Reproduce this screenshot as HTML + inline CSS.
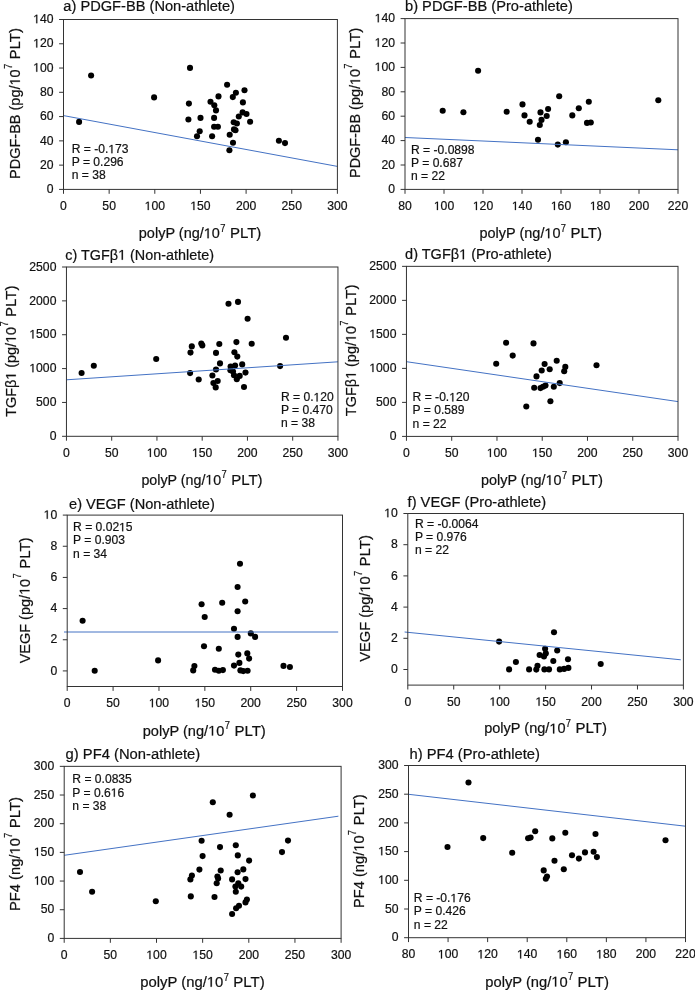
<!DOCTYPE html><html><head><meta charset="utf-8"><title>Scatter plots</title><style>html,body{margin:0;padding:0;background:#fff;overflow:hidden}svg{display:block;will-change:transform}text{fill:#111;stroke:#111;stroke-width:0.2px}</style></head><body>
<svg width="695" height="991" viewBox="0 0 695 991" font-family='"Liberation Sans", sans-serif'>
<rect width="695" height="991" fill="#fff"/>
<g><g fill="#000"><circle cx="91.1" cy="75.5" r="3.05"/><circle cx="154.1" cy="97.4" r="3.05"/><circle cx="79.1" cy="121.9" r="3.05"/><circle cx="190" cy="67.9" r="3.05"/><circle cx="188.9" cy="103.6" r="3.05"/><circle cx="227.1" cy="84.7" r="3.05"/><circle cx="244.5" cy="90.2" r="3.05"/><circle cx="235.9" cy="92.8" r="3.05"/><circle cx="232.8" cy="97.1" r="3.05"/><circle cx="218.5" cy="96.4" r="3.05"/><circle cx="210.5" cy="101.7" r="3.05"/><circle cx="242.9" cy="102.4" r="3.05"/><circle cx="214.3" cy="105.3" r="3.05"/><circle cx="216" cy="110.4" r="3.05"/><circle cx="242.6" cy="112.4" r="3.05"/><circle cx="246.5" cy="114" r="3.05"/><circle cx="238.8" cy="116.5" r="3.05"/><circle cx="188.4" cy="119.5" r="3.05"/><circle cx="200.5" cy="117.9" r="3.05"/><circle cx="214.1" cy="117.9" r="3.05"/><circle cx="250.1" cy="121.8" r="3.05"/><circle cx="233.7" cy="122.2" r="3.05"/><circle cx="236.9" cy="123.5" r="3.05"/><circle cx="214.1" cy="126.7" r="3.05"/><circle cx="217.9" cy="126.7" r="3.05"/><circle cx="234" cy="129.4" r="3.05"/><circle cx="235.5" cy="130.2" r="3.05"/><circle cx="199.7" cy="131.2" r="3.05"/><circle cx="197" cy="136.2" r="3.05"/><circle cx="212.1" cy="136.2" r="3.05"/><circle cx="229.7" cy="134.7" r="3.05"/><circle cx="233" cy="142.8" r="3.05"/><circle cx="229.4" cy="150.3" r="3.05"/><circle cx="278.9" cy="140.7" r="3.05"/><circle cx="285" cy="143.1" r="3.05"/></g><line x1="63.5" y1="115.6" x2="337.4" y2="166.4" stroke="#4472C4" stroke-width="1"/><rect x="63.5" y="19.5" width="273.9" height="169.9" fill="none" stroke="#333" stroke-width="1"/><path d="M63.5 189.4v4.4M109.15 189.4v4.4M154.8 189.4v4.4M200.45 189.4v4.4M246.1 189.4v4.4M291.75 189.4v4.4M337.4 189.4v4.4M63.5 189.4h-4.4M63.5 165.13h-4.4M63.5 140.86h-4.4M63.5 116.59h-4.4M63.5 92.31h-4.4M63.5 68.04h-4.4M63.5 43.77h-4.4M63.5 19.5h-4.4" stroke="#333" stroke-width="1" fill="none"/><g font-size="12.2"><text x="63.5" y="210.1" text-anchor="middle">0</text><text x="109.15" y="210.1" text-anchor="middle">50</text><text x="154.8" y="210.1" text-anchor="middle"> 00</text><text x="200.45" y="210.1" text-anchor="middle"> 50</text><text x="246.1" y="210.1" text-anchor="middle">200</text><text x="291.75" y="210.1" text-anchor="middle">250</text><text x="337.4" y="210.1" text-anchor="middle">300</text><text x="53.5" y="193.1" text-anchor="end">0</text><text x="53.5" y="168.83" text-anchor="end">20</text><text x="53.5" y="144.56" text-anchor="end">40</text><text x="53.5" y="120.29" text-anchor="end">60</text><text x="53.5" y="96.01" text-anchor="end">80</text><text x="53.5" y="71.74" text-anchor="end"> 00</text><text x="53.5" y="47.47" text-anchor="end"> 20</text><text x="53.5" y="23.2" text-anchor="end"> 40</text></g><text id="a_title" x="63.3" y="10.8" font-size="14.0" textLength="171.67" lengthAdjust="spacingAndGlyphs">a) PDGF-BB (Non-athlete)</text><g transform="translate(19.9 177.8) rotate(-90)"><text x="-1.16" y="0" font-size="14.1" textLength="109.60" lengthAdjust="spacingAndGlyphs">PDGF-BB (pg/ 0</text><text x="108.75" y="-8.1" font-size="10.4" textLength="5.23" lengthAdjust="spacingAndGlyphs">7</text><text x="118.4" y="0" font-size="14.1" textLength="31.43" lengthAdjust="spacingAndGlyphs">PLT)</text></g><text x="138.8" y="238.2" font-size="14.1" textLength="81.13" lengthAdjust="spacingAndGlyphs">polyP (ng/ 0</text><text x="220.25" y="231.9" font-size="10.4" textLength="5.23" lengthAdjust="spacingAndGlyphs">7</text><text x="229.9" y="238.2" font-size="14.1" textLength="31.43" lengthAdjust="spacingAndGlyphs">PLT)</text><g font-size="12.1"><text id="a_s0" x="71.7" y="153.2">R = -0. 73</text><text id="a_s1" x="71.7" y="166.25">P = 0.296</text><text id="a_s2" x="71.7" y="179.3">n = 38</text></g></g>
<g><g fill="#000"><circle cx="478.1" cy="70.7" r="3.05"/><circle cx="442.7" cy="110.8" r="3.05"/><circle cx="463.4" cy="112.2" r="3.05"/><circle cx="506.7" cy="111.8" r="3.05"/><circle cx="522.5" cy="104.4" r="3.05"/><circle cx="524.5" cy="115.4" r="3.05"/><circle cx="529.7" cy="121.7" r="3.05"/><circle cx="540.5" cy="112.4" r="3.05"/><circle cx="541.5" cy="119.9" r="3.05"/><circle cx="539.8" cy="125" r="3.05"/><circle cx="538" cy="139.8" r="3.05"/><circle cx="559.2" cy="96.3" r="3.05"/><circle cx="588.8" cy="101.7" r="3.05"/><circle cx="658.3" cy="100.3" r="3.05"/><circle cx="578.8" cy="108.2" r="3.05"/><circle cx="572.3" cy="115.4" r="3.05"/><circle cx="548.1" cy="109" r="3.05"/><circle cx="546.7" cy="116" r="3.05"/><circle cx="587" cy="122.9" r="3.05"/><circle cx="590.8" cy="122.5" r="3.05"/><circle cx="557.8" cy="144.6" r="3.05"/><circle cx="565.9" cy="142.2" r="3.05"/></g><line x1="405" y1="137.5" x2="678" y2="149.8" stroke="#4472C4" stroke-width="1"/><rect x="405" y="18.6" width="273" height="170.8" fill="none" stroke="#333" stroke-width="1"/><path d="M405 189.4v4.4M444 189.4v4.4M483 189.4v4.4M522 189.4v4.4M561 189.4v4.4M600 189.4v4.4M639 189.4v4.4M678 189.4v4.4M405 189.4h-4.4M405 165h-4.4M405 140.6h-4.4M405 116.2h-4.4M405 91.8h-4.4M405 67.4h-4.4M405 43h-4.4M405 18.6h-4.4" stroke="#333" stroke-width="1" fill="none"/><g font-size="12.2"><text x="405" y="210.1" text-anchor="middle">80</text><text x="444" y="210.1" text-anchor="middle"> 00</text><text x="483" y="210.1" text-anchor="middle"> 20</text><text x="522" y="210.1" text-anchor="middle"> 40</text><text x="561" y="210.1" text-anchor="middle"> 60</text><text x="600" y="210.1" text-anchor="middle"> 80</text><text x="639" y="210.1" text-anchor="middle">200</text><text x="678" y="210.1" text-anchor="middle">220</text><text x="395" y="193.1" text-anchor="end">0</text><text x="395" y="168.7" text-anchor="end">20</text><text x="395" y="144.3" text-anchor="end">40</text><text x="395" y="119.9" text-anchor="end">60</text><text x="395" y="95.5" text-anchor="end">80</text><text x="395" y="71.1" text-anchor="end"> 00</text><text x="395" y="46.7" text-anchor="end"> 20</text><text x="395" y="22.3" text-anchor="end"> 40</text></g><text id="b_title" x="405" y="10.9" font-size="14.0" textLength="167.77" lengthAdjust="spacingAndGlyphs">b) PDGF-BB (Pro-athlete)</text><g transform="translate(360.1 176.8) rotate(-90)"><text x="-1.15" y="0" font-size="14.1" textLength="108.89" lengthAdjust="spacingAndGlyphs">PDGF-BB (pg/ 0</text><text x="108.05" y="-8.1" font-size="10.4" textLength="5.23" lengthAdjust="spacingAndGlyphs">7</text><text x="117.7" y="0" font-size="14.1" textLength="31.43" lengthAdjust="spacingAndGlyphs">PLT)</text></g><text x="479.5" y="238.2" font-size="14.1" textLength="81.03" lengthAdjust="spacingAndGlyphs">polyP (ng/ 0</text><text x="560.85" y="231.9" font-size="10.4" textLength="5.23" lengthAdjust="spacingAndGlyphs">7</text><text x="570.5" y="238.2" font-size="14.1" textLength="31.43" lengthAdjust="spacingAndGlyphs">PLT)</text><g font-size="12.1"><text id="b_s0" x="411" y="154">R = -0.0898</text><text id="b_s1" x="411" y="166.9">P = 0.687</text><text id="b_s2" x="411" y="179.8">n = 22</text></g></g>
<g><g fill="#000"><circle cx="81.6" cy="373" r="3.05"/><circle cx="93.8" cy="365.8" r="3.05"/><circle cx="156.2" cy="359" r="3.05"/><circle cx="228.5" cy="303.7" r="3.05"/><circle cx="238" cy="301.9" r="3.05"/><circle cx="247.6" cy="318.8" r="3.05"/><circle cx="191.8" cy="346.4" r="3.05"/><circle cx="201.3" cy="343.5" r="3.05"/><circle cx="202.3" cy="345.4" r="3.05"/><circle cx="219.3" cy="344" r="3.05"/><circle cx="236.4" cy="342.1" r="3.05"/><circle cx="251.7" cy="343.7" r="3.05"/><circle cx="190.5" cy="352.6" r="3.05"/><circle cx="216" cy="352.9" r="3.05"/><circle cx="234.4" cy="352.2" r="3.05"/><circle cx="237.3" cy="356.6" r="3.05"/><circle cx="220" cy="363.4" r="3.05"/><circle cx="216" cy="369.5" r="3.05"/><circle cx="230.6" cy="366.6" r="3.05"/><circle cx="235.1" cy="365.6" r="3.05"/><circle cx="242.2" cy="364.4" r="3.05"/><circle cx="230.4" cy="370.2" r="3.05"/><circle cx="233" cy="371.6" r="3.05"/><circle cx="245.5" cy="372.6" r="3.05"/><circle cx="190.1" cy="373.1" r="3.05"/><circle cx="212.4" cy="375.5" r="3.05"/><circle cx="234" cy="375.2" r="3.05"/><circle cx="239.7" cy="375.9" r="3.05"/><circle cx="236.8" cy="379.2" r="3.05"/><circle cx="198.7" cy="379.5" r="3.05"/><circle cx="217.7" cy="381" r="3.05"/><circle cx="213.4" cy="383.1" r="3.05"/><circle cx="215.7" cy="387.4" r="3.05"/><circle cx="244" cy="387" r="3.05"/><circle cx="286" cy="337.8" r="3.05"/><circle cx="280.1" cy="366.1" r="3.05"/></g><line x1="66.45" y1="379.8" x2="337.95" y2="361.8" stroke="#4472C4" stroke-width="1"/><rect x="66.45" y="267" width="271.5" height="169.3" fill="none" stroke="#333" stroke-width="1"/><path d="M66.45 436.3v4.4M111.7 436.3v4.4M156.95 436.3v4.4M202.2 436.3v4.4M247.45 436.3v4.4M292.7 436.3v4.4M337.95 436.3v4.4M66.45 436.3h-4.4M66.45 402.44h-4.4M66.45 368.58h-4.4M66.45 334.72h-4.4M66.45 300.86h-4.4M66.45 267h-4.4" stroke="#333" stroke-width="1" fill="none"/><g font-size="12.2"><text x="66.45" y="457" text-anchor="middle">0</text><text x="111.7" y="457" text-anchor="middle">50</text><text x="156.95" y="457" text-anchor="middle"> 00</text><text x="202.2" y="457" text-anchor="middle"> 50</text><text x="247.45" y="457" text-anchor="middle">200</text><text x="292.7" y="457" text-anchor="middle">250</text><text x="337.95" y="457" text-anchor="middle">300</text><text x="56.45" y="440" text-anchor="end">0</text><text x="56.45" y="406.14" text-anchor="end">500</text><text x="56.45" y="372.28" text-anchor="end"> 000</text><text x="56.45" y="338.42" text-anchor="end"> 500</text><text x="56.45" y="304.56" text-anchor="end">2000</text><text x="56.45" y="270.7" text-anchor="end">2500</text></g><text id="c_title" x="65.3" y="259.7" font-size="14.0" textLength="148.68" lengthAdjust="spacingAndGlyphs">c) TGFβ  (Non-athlete)</text><g transform="translate(15.8 416.5) rotate(-90)"><text x="-0.38" y="0" font-size="14.1" textLength="90.01" lengthAdjust="spacingAndGlyphs">TGFβ  (pg/ 0</text><text x="89.95" y="-8.1" font-size="10.4" textLength="5.23" lengthAdjust="spacingAndGlyphs">7</text><text x="99.6" y="0" font-size="14.1" textLength="31.43" lengthAdjust="spacingAndGlyphs">PLT)</text></g><text x="141.41" y="484.6" font-size="14.1" textLength="79.81" lengthAdjust="spacingAndGlyphs">polyP (ng/ 0</text><text x="221.55" y="478.3" font-size="10.4" textLength="5.23" lengthAdjust="spacingAndGlyphs">7</text><text x="231.2" y="484.6" font-size="14.1" textLength="31.43" lengthAdjust="spacingAndGlyphs">PLT)</text><g font-size="12.1"><text id="c_s0" x="280.9" y="401.4">R = 0. 20</text><text id="c_s1" x="280.9" y="414.4">P = 0.470</text><text id="c_s2" x="280.9" y="427.4">n = 38</text></g></g>
<g><g fill="#000"><circle cx="506.1" cy="342.7" r="3.05"/><circle cx="533.5" cy="343.4" r="3.05"/><circle cx="512.7" cy="355.6" r="3.05"/><circle cx="496.2" cy="363.8" r="3.05"/><circle cx="556.7" cy="360.8" r="3.05"/><circle cx="544.6" cy="364" r="3.05"/><circle cx="549.7" cy="369.2" r="3.05"/><circle cx="541.7" cy="370.5" r="3.05"/><circle cx="565.3" cy="366.9" r="3.05"/><circle cx="564.2" cy="371.2" r="3.05"/><circle cx="536.5" cy="376.4" r="3.05"/><circle cx="559.7" cy="383.1" r="3.05"/><circle cx="534.2" cy="387.7" r="3.05"/><circle cx="540.5" cy="388.1" r="3.05"/><circle cx="543" cy="386.7" r="3.05"/><circle cx="545.5" cy="385.6" r="3.05"/><circle cx="553.8" cy="386.7" r="3.05"/><circle cx="550.4" cy="401.2" r="3.05"/><circle cx="526.3" cy="406.5" r="3.05"/><circle cx="596.5" cy="365.2" r="3.05"/></g><line x1="406.45" y1="361.7" x2="678" y2="401.6" stroke="#4472C4" stroke-width="1"/><rect x="406.45" y="266.35" width="271.55" height="170.05" fill="none" stroke="#333" stroke-width="1"/><path d="M406.45 436.4v4.4M451.71 436.4v4.4M496.97 436.4v4.4M542.23 436.4v4.4M587.48 436.4v4.4M632.74 436.4v4.4M678 436.4v4.4M406.45 436.4h-4.4M406.45 402.39h-4.4M406.45 368.38h-4.4M406.45 334.37h-4.4M406.45 300.36h-4.4M406.45 266.35h-4.4" stroke="#333" stroke-width="1" fill="none"/><g font-size="12.2"><text x="406.45" y="457.1" text-anchor="middle">0</text><text x="451.71" y="457.1" text-anchor="middle">50</text><text x="496.97" y="457.1" text-anchor="middle"> 00</text><text x="542.23" y="457.1" text-anchor="middle"> 50</text><text x="587.48" y="457.1" text-anchor="middle">200</text><text x="632.74" y="457.1" text-anchor="middle">250</text><text x="678" y="457.1" text-anchor="middle">300</text><text x="396.45" y="440.1" text-anchor="end">0</text><text x="396.45" y="406.09" text-anchor="end">500</text><text x="396.45" y="372.08" text-anchor="end"> 000</text><text x="396.45" y="338.07" text-anchor="end"> 500</text><text x="396.45" y="304.06" text-anchor="end">2000</text><text x="396.45" y="270.05" text-anchor="end">2500</text></g><text id="d_title" x="405.1" y="259.2" font-size="14.0" textLength="146.68" lengthAdjust="spacingAndGlyphs">d) TGFβ  (Pro-athlete)</text><g transform="translate(355.8 415.8) rotate(-90)"><text x="-0.38" y="0" font-size="14.1" textLength="90.21" lengthAdjust="spacingAndGlyphs">TGFβ  (pg/ 0</text><text x="90.15" y="-8.1" font-size="10.4" textLength="5.23" lengthAdjust="spacingAndGlyphs">7</text><text x="99.8" y="0" font-size="14.1" textLength="31.43" lengthAdjust="spacingAndGlyphs">PLT)</text></g><text x="481.01" y="484.9" font-size="14.1" textLength="80.62" lengthAdjust="spacingAndGlyphs">polyP (ng/ 0</text><text x="561.95" y="478.6" font-size="10.4" textLength="5.23" lengthAdjust="spacingAndGlyphs">7</text><text x="571.6" y="484.9" font-size="14.1" textLength="31.43" lengthAdjust="spacingAndGlyphs">PLT)</text><g font-size="12.1"><text id="d_s0" x="412.6" y="401.4">R = -0. 20</text><text id="d_s1" x="412.6" y="414.45">P = 0.589</text><text id="d_s2" x="412.6" y="427.5">n = 22</text></g></g>
<g><g fill="#000"><circle cx="82.6" cy="620.7" r="3.05"/><circle cx="94.7" cy="670.8" r="3.05"/><circle cx="158.1" cy="660.4" r="3.05"/><circle cx="240" cy="563.7" r="3.05"/><circle cx="237.6" cy="587" r="3.05"/><circle cx="201.6" cy="604.2" r="3.05"/><circle cx="222.2" cy="602.8" r="3.05"/><circle cx="245.2" cy="601.5" r="3.05"/><circle cx="237.6" cy="611.2" r="3.05"/><circle cx="204.7" cy="617" r="3.05"/><circle cx="234" cy="628.7" r="3.05"/><circle cx="237.6" cy="636.9" r="3.05"/><circle cx="250.8" cy="633.4" r="3.05"/><circle cx="255.1" cy="636.9" r="3.05"/><circle cx="204" cy="646.2" r="3.05"/><circle cx="218.8" cy="648.8" r="3.05"/><circle cx="238.3" cy="654.6" r="3.05"/><circle cx="247.3" cy="653.4" r="3.05"/><circle cx="249.1" cy="658.6" r="3.05"/><circle cx="194.4" cy="666.1" r="3.05"/><circle cx="193.2" cy="670.4" r="3.05"/><circle cx="215" cy="669.7" r="3.05"/><circle cx="218.8" cy="670.8" r="3.05"/><circle cx="222.9" cy="670.1" r="3.05"/><circle cx="234" cy="665.6" r="3.05"/><circle cx="239.4" cy="662.9" r="3.05"/><circle cx="240.4" cy="670.4" r="3.05"/><circle cx="243.3" cy="671.1" r="3.05"/><circle cx="247.6" cy="670.8" r="3.05"/><circle cx="283.5" cy="665.9" r="3.05"/><circle cx="289.9" cy="667" r="3.05"/></g><line x1="64" y1="632" x2="338.2" y2="632" stroke="#4472C4" stroke-width="1"/><rect x="67.2" y="515.1" width="275.3" height="171.4" fill="none" stroke="#333" stroke-width="1"/><path d="M67.2 686.5v4.4M113.08 686.5v4.4M158.97 686.5v4.4M204.85 686.5v4.4M250.73 686.5v4.4M296.62 686.5v4.4M342.5 686.5v4.4M67.2 670.92h-4.4M67.2 639.75h-4.4M67.2 608.59h-4.4M67.2 577.43h-4.4M67.2 546.26h-4.4M67.2 515.1h-4.4" stroke="#333" stroke-width="1" fill="none"/><g font-size="12.2"><text x="67.2" y="707.2" text-anchor="middle">0</text><text x="113.08" y="707.2" text-anchor="middle">50</text><text x="158.97" y="707.2" text-anchor="middle"> 00</text><text x="204.85" y="707.2" text-anchor="middle"> 50</text><text x="250.73" y="707.2" text-anchor="middle">200</text><text x="296.62" y="707.2" text-anchor="middle">250</text><text x="342.5" y="707.2" text-anchor="middle">300</text><text x="57.2" y="674.62" text-anchor="end">0</text><text x="57.2" y="643.45" text-anchor="end">2</text><text x="57.2" y="612.29" text-anchor="end">4</text><text x="57.2" y="581.13" text-anchor="end">6</text><text x="57.2" y="549.96" text-anchor="end">8</text><text x="57.2" y="518.8" text-anchor="end"> 0</text></g><text id="e_title" x="69.1" y="508.6" font-size="14.0" textLength="145.75" lengthAdjust="spacingAndGlyphs">e) VEGF (Non-athlete)</text><g transform="translate(29.5 663.2) rotate(-90)"><text x="-0.13" y="0" font-size="14.1" textLength="84.51" lengthAdjust="spacingAndGlyphs">VEGF (pg/ 0</text><text x="84.7" y="-8.1" font-size="10.4" textLength="5.23" lengthAdjust="spacingAndGlyphs">7</text><text x="94.35" y="0" font-size="14.1" textLength="31.43" lengthAdjust="spacingAndGlyphs">PLT)</text></g><text x="142.69" y="735.6" font-size="14.1" textLength="81.74" lengthAdjust="spacingAndGlyphs">polyP (ng/ 0</text><text x="224.75" y="729.3" font-size="10.4" textLength="5.23" lengthAdjust="spacingAndGlyphs">7</text><text x="234.4" y="735.6" font-size="14.1" textLength="31.43" lengthAdjust="spacingAndGlyphs">PLT)</text><g font-size="12.1"><text id="e_s0" x="73.05" y="531.3">R = 0.02 5</text><text id="e_s1" x="73.05" y="544.45">P = 0.903</text><text id="e_s2" x="73.05" y="557.6">n = 34</text></g></g>
<g><g fill="#000"><circle cx="554" cy="632.2" r="3.05"/><circle cx="499.1" cy="641.6" r="3.05"/><circle cx="545.1" cy="648.8" r="3.05"/><circle cx="557.2" cy="650.5" r="3.05"/><circle cx="545.8" cy="653.4" r="3.05"/><circle cx="539.6" cy="655" r="3.05"/><circle cx="544" cy="656.4" r="3.05"/><circle cx="515.9" cy="662" r="3.05"/><circle cx="553.3" cy="661" r="3.05"/><circle cx="568" cy="659.3" r="3.05"/><circle cx="509.1" cy="669.4" r="3.05"/><circle cx="529.1" cy="669.4" r="3.05"/><circle cx="537.5" cy="665.8" r="3.05"/><circle cx="536.3" cy="669.6" r="3.05"/><circle cx="544.4" cy="669.4" r="3.05"/><circle cx="549" cy="669.4" r="3.05"/><circle cx="559.8" cy="669.4" r="3.05"/><circle cx="564.1" cy="668.9" r="3.05"/><circle cx="568.4" cy="667.9" r="3.05"/><circle cx="600.7" cy="664" r="3.05"/></g><line x1="404.6" y1="632" x2="680.8" y2="659.8" stroke="#4472C4" stroke-width="1"/><rect x="407.8" y="513.5" width="275.6" height="171.6" fill="none" stroke="#333" stroke-width="1"/><path d="M407.8 685.1v4.4M453.73 685.1v4.4M499.67 685.1v4.4M545.6 685.1v4.4M591.53 685.1v4.4M637.47 685.1v4.4M683.4 685.1v4.4M407.8 669.5h-4.4M407.8 638.3h-4.4M407.8 607.1h-4.4M407.8 575.9h-4.4M407.8 544.7h-4.4M407.8 513.5h-4.4" stroke="#333" stroke-width="1" fill="none"/><g font-size="12.2"><text x="407.8" y="705.8" text-anchor="middle">0</text><text x="453.73" y="705.8" text-anchor="middle">50</text><text x="499.67" y="705.8" text-anchor="middle"> 00</text><text x="545.6" y="705.8" text-anchor="middle"> 50</text><text x="591.53" y="705.8" text-anchor="middle">200</text><text x="637.47" y="705.8" text-anchor="middle">250</text><text x="683.4" y="705.8" text-anchor="middle">300</text><text x="397.8" y="673.2" text-anchor="end">0</text><text x="397.8" y="642" text-anchor="end">2</text><text x="397.8" y="610.8" text-anchor="end">4</text><text x="397.8" y="579.6" text-anchor="end">6</text><text x="397.8" y="548.4" text-anchor="end">8</text><text x="397.8" y="517.2" text-anchor="end"> 0</text></g><text id="f_title" x="407.6" y="506.5" font-size="14.0" textLength="138.53" lengthAdjust="spacingAndGlyphs">f) VEGF (Pro-athlete)</text><g transform="translate(370 661.65) rotate(-90)"><text x="-0.13" y="0" font-size="14.1" textLength="85.42" lengthAdjust="spacingAndGlyphs">VEGF (pg/ 0</text><text x="85.6" y="-8.1" font-size="10.4" textLength="5.23" lengthAdjust="spacingAndGlyphs">7</text><text x="95.25" y="0" font-size="14.1" textLength="31.43" lengthAdjust="spacingAndGlyphs">PLT)</text></g><text x="484.2" y="733.4" font-size="14.1" textLength="81.33" lengthAdjust="spacingAndGlyphs">polyP (ng/ 0</text><text x="565.85" y="727.1" font-size="10.4" textLength="5.23" lengthAdjust="spacingAndGlyphs">7</text><text x="575.5" y="733.4" font-size="14.1" textLength="31.43" lengthAdjust="spacingAndGlyphs">PLT)</text><g font-size="12.1"><text id="f_s0" x="414.9" y="528.1">R = -0.0064</text><text id="f_s1" x="414.9" y="541.2">P = 0.976</text><text id="f_s2" x="414.9" y="554.3">n = 22</text></g></g>
<g><g fill="#000"><circle cx="80" cy="872" r="3.05"/><circle cx="92.1" cy="891.8" r="3.05"/><circle cx="155.8" cy="901.3" r="3.05"/><circle cx="212.8" cy="802.2" r="3.05"/><circle cx="229.6" cy="814.7" r="3.05"/><circle cx="252.9" cy="795.5" r="3.05"/><circle cx="201.6" cy="840.7" r="3.05"/><circle cx="220" cy="847.1" r="3.05"/><circle cx="235.8" cy="845.3" r="3.05"/><circle cx="202.6" cy="856.1" r="3.05"/><circle cx="237.8" cy="855.4" r="3.05"/><circle cx="249.1" cy="860.6" r="3.05"/><circle cx="199.4" cy="869.6" r="3.05"/><circle cx="220.7" cy="870.5" r="3.05"/><circle cx="243.3" cy="869.4" r="3.05"/><circle cx="237.6" cy="872.2" r="3.05"/><circle cx="191.9" cy="875.5" r="3.05"/><circle cx="190.4" cy="879.4" r="3.05"/><circle cx="217.4" cy="876.5" r="3.05"/><circle cx="216.7" cy="883.3" r="3.05"/><circle cx="232.1" cy="879.4" r="3.05"/><circle cx="245.5" cy="879.1" r="3.05"/><circle cx="238.3" cy="883.3" r="3.05"/><circle cx="235.4" cy="886.6" r="3.05"/><circle cx="241.2" cy="886.6" r="3.05"/><circle cx="235.8" cy="891.7" r="3.05"/><circle cx="190.8" cy="896.4" r="3.05"/><circle cx="214.5" cy="897" r="3.05"/><circle cx="246.9" cy="899.6" r="3.05"/><circle cx="245.5" cy="902.4" r="3.05"/><circle cx="239" cy="905.8" r="3.05"/><circle cx="236.1" cy="908.2" r="3.05"/><circle cx="232.1" cy="914" r="3.05"/><circle cx="288" cy="840.6" r="3.05"/><circle cx="282" cy="852.1" r="3.05"/><circle cx="218.1" cy="878.5" r="3.05"/></g><line x1="64.2" y1="855.3" x2="338.4" y2="816.2" stroke="#4472C4" stroke-width="1"/><rect x="64.2" y="766.35" width="276.9" height="172.05" fill="none" stroke="#333" stroke-width="1"/><path d="M64.2 938.4v4.4M110.35 938.4v4.4M156.5 938.4v4.4M202.65 938.4v4.4M248.8 938.4v4.4M294.95 938.4v4.4M341.1 938.4v4.4M64.2 938.4h-4.4M64.2 909.73h-4.4M64.2 881.05h-4.4M64.2 852.38h-4.4M64.2 823.7h-4.4M64.2 795.02h-4.4M64.2 766.35h-4.4" stroke="#333" stroke-width="1" fill="none"/><g font-size="12.2"><text x="64.2" y="959.1" text-anchor="middle">0</text><text x="110.35" y="959.1" text-anchor="middle">50</text><text x="156.5" y="959.1" text-anchor="middle"> 00</text><text x="202.65" y="959.1" text-anchor="middle"> 50</text><text x="248.8" y="959.1" text-anchor="middle">200</text><text x="294.95" y="959.1" text-anchor="middle">250</text><text x="341.1" y="959.1" text-anchor="middle">300</text><text x="54.2" y="942.1" text-anchor="end">0</text><text x="54.2" y="913.43" text-anchor="end">50</text><text x="54.2" y="884.75" text-anchor="end"> 00</text><text x="54.2" y="856.08" text-anchor="end"> 50</text><text x="54.2" y="827.4" text-anchor="end">200</text><text x="54.2" y="798.73" text-anchor="end">250</text><text x="54.2" y="770.05" text-anchor="end">300</text></g><text id="g_title" x="65.6" y="758.8" font-size="14.0" textLength="134.60" lengthAdjust="spacingAndGlyphs">g) PF4 (Non-athlete)</text><g transform="translate(19.8 909.9) rotate(-90)"><text x="-1.18" y="0" font-size="14.1" textLength="72.91" lengthAdjust="spacingAndGlyphs">PF4 (ng/ 0</text><text x="71.95" y="-8.1" font-size="10.4" textLength="5.23" lengthAdjust="spacingAndGlyphs">7</text><text x="81.6" y="0" font-size="14.1" textLength="31.43" lengthAdjust="spacingAndGlyphs">PLT)</text></g><text x="140.28" y="986.8" font-size="14.1" textLength="83.06" lengthAdjust="spacingAndGlyphs">polyP (ng/ 0</text><text x="223.65" y="980.5" font-size="10.4" textLength="5.23" lengthAdjust="spacingAndGlyphs">7</text><text x="233.3" y="986.8" font-size="14.1" textLength="31.43" lengthAdjust="spacingAndGlyphs">PLT)</text><g font-size="12.1"><text id="g_s0" x="72.3" y="783.3">R = 0.0835</text><text id="g_s1" x="72.3" y="796.7">P = 0.6 6</text><text id="g_s2" x="72.3" y="810.1">n = 38</text></g></g>
<g><g fill="#000"><circle cx="468.5" cy="782.5" r="3.05"/><circle cx="447.5" cy="847" r="3.05"/><circle cx="483.2" cy="838.1" r="3.05"/><circle cx="512.2" cy="852.7" r="3.05"/><circle cx="528.1" cy="838.3" r="3.05"/><circle cx="530.6" cy="837.6" r="3.05"/><circle cx="535.2" cy="831.3" r="3.05"/><circle cx="552.3" cy="838.4" r="3.05"/><circle cx="565.3" cy="832.7" r="3.05"/><circle cx="595.5" cy="834" r="3.05"/><circle cx="572" cy="855.3" r="3.05"/><circle cx="578.9" cy="858.6" r="3.05"/><circle cx="585" cy="852.4" r="3.05"/><circle cx="593.6" cy="851.7" r="3.05"/><circle cx="596.9" cy="857.1" r="3.05"/><circle cx="554.5" cy="860.7" r="3.05"/><circle cx="563.8" cy="869.2" r="3.05"/><circle cx="543.7" cy="870.4" r="3.05"/><circle cx="547" cy="876.5" r="3.05"/><circle cx="545.8" cy="878.7" r="3.05"/><circle cx="665.5" cy="840.3" r="3.05"/></g><line x1="408.5" y1="794.3" x2="685.4" y2="826.2" stroke="#4472C4" stroke-width="1"/><rect x="408.5" y="765.5" width="277" height="172.2" fill="none" stroke="#333" stroke-width="1"/><path d="M408.5 937.7v4.4M448.07 937.7v4.4M487.64 937.7v4.4M527.21 937.7v4.4M566.79 937.7v4.4M606.36 937.7v4.4M645.93 937.7v4.4M685.5 937.7v4.4M408.5 937.7h-4.4M408.5 909h-4.4M408.5 880.3h-4.4M408.5 851.6h-4.4M408.5 822.9h-4.4M408.5 794.2h-4.4M408.5 765.5h-4.4" stroke="#333" stroke-width="1" fill="none"/><g font-size="12.2"><text x="408.5" y="958.4" text-anchor="middle">80</text><text x="448.07" y="958.4" text-anchor="middle"> 00</text><text x="487.64" y="958.4" text-anchor="middle"> 20</text><text x="527.21" y="958.4" text-anchor="middle"> 40</text><text x="566.79" y="958.4" text-anchor="middle"> 60</text><text x="606.36" y="958.4" text-anchor="middle"> 80</text><text x="645.93" y="958.4" text-anchor="middle">200</text><text x="685.5" y="958.4" text-anchor="middle">220</text><text x="398.5" y="941.4" text-anchor="end">0</text><text x="398.5" y="912.7" text-anchor="end">50</text><text x="398.5" y="884" text-anchor="end"> 00</text><text x="398.5" y="855.3" text-anchor="end"> 50</text><text x="398.5" y="826.6" text-anchor="end">200</text><text x="398.5" y="797.9" text-anchor="end">250</text><text x="398.5" y="769.2" text-anchor="end">300</text></g><text id="h_title" x="409.45" y="759.2" font-size="14.0" textLength="130.47" lengthAdjust="spacingAndGlyphs">h) PF4 (Pro-athlete)</text><g transform="translate(363.9 906.8) rotate(-90)"><text x="-1.17" y="0" font-size="14.1" textLength="72.50" lengthAdjust="spacingAndGlyphs">PF4 (ng/ 0</text><text x="71.55" y="-8.1" font-size="10.4" textLength="5.23" lengthAdjust="spacingAndGlyphs">7</text><text x="81.2" y="0" font-size="14.1" textLength="31.43" lengthAdjust="spacingAndGlyphs">PLT)</text></g><text x="485.29" y="986.5" font-size="14.1" textLength="82.35" lengthAdjust="spacingAndGlyphs">polyP (ng/ 0</text><text x="567.95" y="980.2" font-size="10.4" textLength="5.23" lengthAdjust="spacingAndGlyphs">7</text><text x="577.6" y="986.5" font-size="14.1" textLength="31.43" lengthAdjust="spacingAndGlyphs">PLT)</text><g font-size="12.1"><text id="h_s0" x="413.8" y="902.2">R = -0. 76</text><text id="h_s1" x="413.8" y="915.35">P = 0.426</text><text id="h_s2" x="413.8" y="928.5">n = 22</text></g></g>
<g fill="#111" stroke="#111" stroke-width="0.2" vector-effect="non-scaling-stroke"><path vector-effect="non-scaling-stroke" transform="matrix(1 0 0 1 0 0) translate(144.628 210.100) scale(0.005954 -0.005957)" d="M515 0V1237L197 1010V1180L530 1409H696V0Z"/><path vector-effect="non-scaling-stroke" transform="matrix(1 0 0 1 0 0) translate(190.278 210.100) scale(0.005954 -0.005957)" d="M515 0V1237L197 1010V1180L530 1409H696V0Z"/><path vector-effect="non-scaling-stroke" transform="matrix(1 0 0 1 0 0) translate(33.156 71.740) scale(0.005954 -0.005957)" d="M515 0V1237L197 1010V1180L530 1409H696V0Z"/><path vector-effect="non-scaling-stroke" transform="matrix(1 0 0 1 0 0) translate(33.156 47.470) scale(0.005954 -0.005957)" d="M515 0V1237L197 1010V1180L530 1409H696V0Z"/><path vector-effect="non-scaling-stroke" transform="matrix(1 0 0 1 0 0) translate(33.156 23.200) scale(0.005954 -0.005957)" d="M515 0V1237L197 1010V1180L530 1409H696V0Z"/><path vector-effect="non-scaling-stroke" transform="matrix(0 -1 1 0 19.9 177.8) translate(92.301 0.000) scale(0.007085 -0.006885)" d="M515 0V1237L197 1010V1180L530 1409H696V0Z"/><path vector-effect="non-scaling-stroke" transform="matrix(1 0 0 1 0 0) translate(203.781 238.200) scale(0.007096 -0.006885)" d="M515 0V1237L197 1010V1180L530 1409H696V0Z"/><path vector-effect="non-scaling-stroke" transform="matrix(1 0 0 1 0 0) translate(108.325 153.200) scale(0.005913 -0.005908)" d="M515 0V1237L197 1010V1180L530 1409H696V0Z"/><path vector-effect="non-scaling-stroke" transform="matrix(1 0 0 1 0 0) translate(433.828 210.100) scale(0.005954 -0.005957)" d="M515 0V1237L197 1010V1180L530 1409H696V0Z"/><path vector-effect="non-scaling-stroke" transform="matrix(1 0 0 1 0 0) translate(472.828 210.100) scale(0.005954 -0.005957)" d="M515 0V1237L197 1010V1180L530 1409H696V0Z"/><path vector-effect="non-scaling-stroke" transform="matrix(1 0 0 1 0 0) translate(511.828 210.100) scale(0.005954 -0.005957)" d="M515 0V1237L197 1010V1180L530 1409H696V0Z"/><path vector-effect="non-scaling-stroke" transform="matrix(1 0 0 1 0 0) translate(550.828 210.100) scale(0.005954 -0.005957)" d="M515 0V1237L197 1010V1180L530 1409H696V0Z"/><path vector-effect="non-scaling-stroke" transform="matrix(1 0 0 1 0 0) translate(589.828 210.100) scale(0.005954 -0.005957)" d="M515 0V1237L197 1010V1180L530 1409H696V0Z"/><path vector-effect="non-scaling-stroke" transform="matrix(1 0 0 1 0 0) translate(374.656 71.100) scale(0.005954 -0.005957)" d="M515 0V1237L197 1010V1180L530 1409H696V0Z"/><path vector-effect="non-scaling-stroke" transform="matrix(1 0 0 1 0 0) translate(374.656 46.700) scale(0.005954 -0.005957)" d="M515 0V1237L197 1010V1180L530 1409H696V0Z"/><path vector-effect="non-scaling-stroke" transform="matrix(1 0 0 1 0 0) translate(374.656 22.300) scale(0.005954 -0.005957)" d="M515 0V1237L197 1010V1180L530 1409H696V0Z"/><path vector-effect="non-scaling-stroke" transform="matrix(0 -1 1 0 360.10001 176.8) translate(91.705 0.000) scale(0.007039 -0.006885)" d="M515 0V1237L197 1010V1180L530 1409H696V0Z"/><path vector-effect="non-scaling-stroke" transform="matrix(1 0 0 1 0 0) translate(544.401 238.200) scale(0.007087 -0.006885)" d="M515 0V1237L197 1010V1180L530 1409H696V0Z"/><path vector-effect="non-scaling-stroke" transform="matrix(1 0 0 1 0 0) translate(146.778 457.000) scale(0.005954 -0.005957)" d="M515 0V1237L197 1010V1180L530 1409H696V0Z"/><path vector-effect="non-scaling-stroke" transform="matrix(1 0 0 1 0 0) translate(192.028 457.000) scale(0.005954 -0.005957)" d="M515 0V1237L197 1010V1180L530 1409H696V0Z"/><path vector-effect="non-scaling-stroke" transform="matrix(1 0 0 1 0 0) translate(29.325 372.280) scale(0.005954 -0.005957)" d="M515 0V1237L197 1010V1180L530 1409H696V0Z"/><path vector-effect="non-scaling-stroke" transform="matrix(1 0 0 1 0 0) translate(29.325 338.420) scale(0.005954 -0.005957)" d="M515 0V1237L197 1010V1180L530 1409H696V0Z"/><path vector-effect="non-scaling-stroke" transform="matrix(1 0 0 1 0 0) translate(118.043 259.700) scale(0.007032 -0.006836)" d="M515 0V1237L197 1010V1180L530 1409H696V0Z"/><path vector-effect="non-scaling-stroke" transform="matrix(0 -1 1 0 15.8 416.5) translate(36.723 0.000) scale(0.007057 -0.006885)" d="M515 0V1237L197 1010V1180L530 1409H696V0Z"/><path vector-effect="non-scaling-stroke" transform="matrix(0 -1 1 0 15.8 416.5) translate(73.571 0.000) scale(0.007057 -0.006885)" d="M515 0V1237L197 1010V1180L530 1409H696V0Z"/><path vector-effect="non-scaling-stroke" transform="matrix(1 0 0 1 0 0) translate(205.334 484.600) scale(0.006981 -0.006885)" d="M515 0V1237L197 1010V1180L530 1409H696V0Z"/><path vector-effect="non-scaling-stroke" transform="matrix(1 0 0 1 0 0) translate(313.494 401.400) scale(0.005926 -0.005908)" d="M515 0V1237L197 1010V1180L530 1409H696V0Z"/><path vector-effect="non-scaling-stroke" transform="matrix(1 0 0 1 0 0) translate(486.798 457.100) scale(0.005954 -0.005957)" d="M515 0V1237L197 1010V1180L530 1409H696V0Z"/><path vector-effect="non-scaling-stroke" transform="matrix(1 0 0 1 0 0) translate(532.058 457.100) scale(0.005954 -0.005957)" d="M515 0V1237L197 1010V1180L530 1409H696V0Z"/><path vector-effect="non-scaling-stroke" transform="matrix(1 0 0 1 0 0) translate(369.325 372.080) scale(0.005954 -0.005957)" d="M515 0V1237L197 1010V1180L530 1409H696V0Z"/><path vector-effect="non-scaling-stroke" transform="matrix(1 0 0 1 0 0) translate(369.325 338.070) scale(0.005954 -0.005957)" d="M515 0V1237L197 1010V1180L530 1409H696V0Z"/><path vector-effect="non-scaling-stroke" transform="matrix(1 0 0 1 0 0) translate(459.085 259.200) scale(0.007090 -0.006836)" d="M515 0V1237L197 1010V1180L530 1409H696V0Z"/><path vector-effect="non-scaling-stroke" transform="matrix(0 -1 1 0 355.79999 415.79999) translate(36.806 0.000) scale(0.007072 -0.006885)" d="M515 0V1237L197 1010V1180L530 1409H696V0Z"/><path vector-effect="non-scaling-stroke" transform="matrix(0 -1 1 0 355.79999 415.79999) translate(73.735 0.000) scale(0.007072 -0.006885)" d="M515 0V1237L197 1010V1180L530 1409H696V0Z"/><path vector-effect="non-scaling-stroke" transform="matrix(1 0 0 1 0 0) translate(545.583 484.900) scale(0.007052 -0.006885)" d="M515 0V1237L197 1010V1180L530 1409H696V0Z"/><path vector-effect="non-scaling-stroke" transform="matrix(1 0 0 1 0 0) translate(449.225 401.400) scale(0.005913 -0.005908)" d="M515 0V1237L197 1010V1180L530 1409H696V0Z"/><path vector-effect="non-scaling-stroke" transform="matrix(1 0 0 1 0 0) translate(148.798 707.200) scale(0.005954 -0.005957)" d="M515 0V1237L197 1010V1180L530 1409H696V0Z"/><path vector-effect="non-scaling-stroke" transform="matrix(1 0 0 1 0 0) translate(194.678 707.200) scale(0.005954 -0.005957)" d="M515 0V1237L197 1010V1180L530 1409H696V0Z"/><path vector-effect="non-scaling-stroke" transform="matrix(1 0 0 1 0 0) translate(43.638 518.800) scale(0.005954 -0.005957)" d="M515 0V1237L197 1010V1180L530 1409H696V0Z"/><path vector-effect="non-scaling-stroke" transform="matrix(0 -1 1 0 29.5 663.20001) translate(68.248 0.000) scale(0.007088 -0.006885)" d="M515 0V1237L197 1010V1180L530 1409H696V0Z"/><path vector-effect="non-scaling-stroke" transform="matrix(1 0 0 1 0 0) translate(208.160 735.600) scale(0.007149 -0.006885)" d="M515 0V1237L197 1010V1180L530 1409H696V0Z"/><path vector-effect="non-scaling-stroke" transform="matrix(1 0 0 1 0 0) translate(119.097 531.300) scale(0.005913 -0.005908)" d="M515 0V1237L197 1010V1180L530 1409H696V0Z"/><path vector-effect="non-scaling-stroke" transform="matrix(1 0 0 1 0 0) translate(489.498 705.800) scale(0.005954 -0.005957)" d="M515 0V1237L197 1010V1180L530 1409H696V0Z"/><path vector-effect="non-scaling-stroke" transform="matrix(1 0 0 1 0 0) translate(535.428 705.800) scale(0.005954 -0.005957)" d="M515 0V1237L197 1010V1180L530 1409H696V0Z"/><path vector-effect="non-scaling-stroke" transform="matrix(1 0 0 1 0 0) translate(384.237 517.200) scale(0.005954 -0.005957)" d="M515 0V1237L197 1010V1180L530 1409H696V0Z"/><path vector-effect="non-scaling-stroke" transform="matrix(0 -1 1 0 370 661.65002) translate(68.985 0.000) scale(0.007165 -0.006885)" d="M515 0V1237L197 1010V1180L530 1409H696V0Z"/><path vector-effect="non-scaling-stroke" transform="matrix(1 0 0 1 0 0) translate(549.341 733.400) scale(0.007114 -0.006885)" d="M515 0V1237L197 1010V1180L530 1409H696V0Z"/><path vector-effect="non-scaling-stroke" transform="matrix(1 0 0 1 0 0) translate(146.328 959.100) scale(0.005954 -0.005957)" d="M515 0V1237L197 1010V1180L530 1409H696V0Z"/><path vector-effect="non-scaling-stroke" transform="matrix(1 0 0 1 0 0) translate(192.478 959.100) scale(0.005954 -0.005957)" d="M515 0V1237L197 1010V1180L530 1409H696V0Z"/><path vector-effect="non-scaling-stroke" transform="matrix(1 0 0 1 0 0) translate(33.856 884.750) scale(0.005954 -0.005957)" d="M515 0V1237L197 1010V1180L530 1409H696V0Z"/><path vector-effect="non-scaling-stroke" transform="matrix(1 0 0 1 0 0) translate(33.856 856.080) scale(0.005954 -0.005957)" d="M515 0V1237L197 1010V1180L530 1409H696V0Z"/><path vector-effect="non-scaling-stroke" transform="matrix(0 -1 1 0 19.8 909.90002) translate(55.328 0.000) scale(0.007200 -0.006885)" d="M515 0V1237L197 1010V1180L530 1409H696V0Z"/><path vector-effect="non-scaling-stroke" transform="matrix(1 0 0 1 0 0) translate(206.807 986.800) scale(0.007265 -0.006885)" d="M515 0V1237L197 1010V1180L530 1409H696V0Z"/><path vector-effect="non-scaling-stroke" transform="matrix(1 0 0 1 0 0) translate(110.738 796.700) scale(0.005913 -0.005908)" d="M515 0V1237L197 1010V1180L530 1409H696V0Z"/><path vector-effect="non-scaling-stroke" transform="matrix(1 0 0 1 0 0) translate(437.898 958.400) scale(0.005954 -0.005957)" d="M515 0V1237L197 1010V1180L530 1409H696V0Z"/><path vector-effect="non-scaling-stroke" transform="matrix(1 0 0 1 0 0) translate(477.468 958.400) scale(0.005954 -0.005957)" d="M515 0V1237L197 1010V1180L530 1409H696V0Z"/><path vector-effect="non-scaling-stroke" transform="matrix(1 0 0 1 0 0) translate(517.038 958.400) scale(0.005954 -0.005957)" d="M515 0V1237L197 1010V1180L530 1409H696V0Z"/><path vector-effect="non-scaling-stroke" transform="matrix(1 0 0 1 0 0) translate(556.618 958.400) scale(0.005954 -0.005957)" d="M515 0V1237L197 1010V1180L530 1409H696V0Z"/><path vector-effect="non-scaling-stroke" transform="matrix(1 0 0 1 0 0) translate(596.188 958.400) scale(0.005954 -0.005957)" d="M515 0V1237L197 1010V1180L530 1409H696V0Z"/><path vector-effect="non-scaling-stroke" transform="matrix(1 0 0 1 0 0) translate(378.156 884.000) scale(0.005954 -0.005957)" d="M515 0V1237L197 1010V1180L530 1409H696V0Z"/><path vector-effect="non-scaling-stroke" transform="matrix(1 0 0 1 0 0) translate(378.156 855.300) scale(0.005954 -0.005957)" d="M515 0V1237L197 1010V1180L530 1409H696V0Z"/><path vector-effect="non-scaling-stroke" transform="matrix(0 -1 1 0 363.89999 906.79999) translate(55.020 0.000) scale(0.007160 -0.006885)" d="M515 0V1237L197 1010V1180L530 1409H696V0Z"/><path vector-effect="non-scaling-stroke" transform="matrix(1 0 0 1 0 0) translate(551.248 986.500) scale(0.007203 -0.006885)" d="M515 0V1237L197 1010V1180L530 1409H696V0Z"/><path vector-effect="non-scaling-stroke" transform="matrix(1 0 0 1 0 0) translate(450.425 902.200) scale(0.005913 -0.005908)" d="M515 0V1237L197 1010V1180L530 1409H696V0Z"/></g></svg></body></html>
